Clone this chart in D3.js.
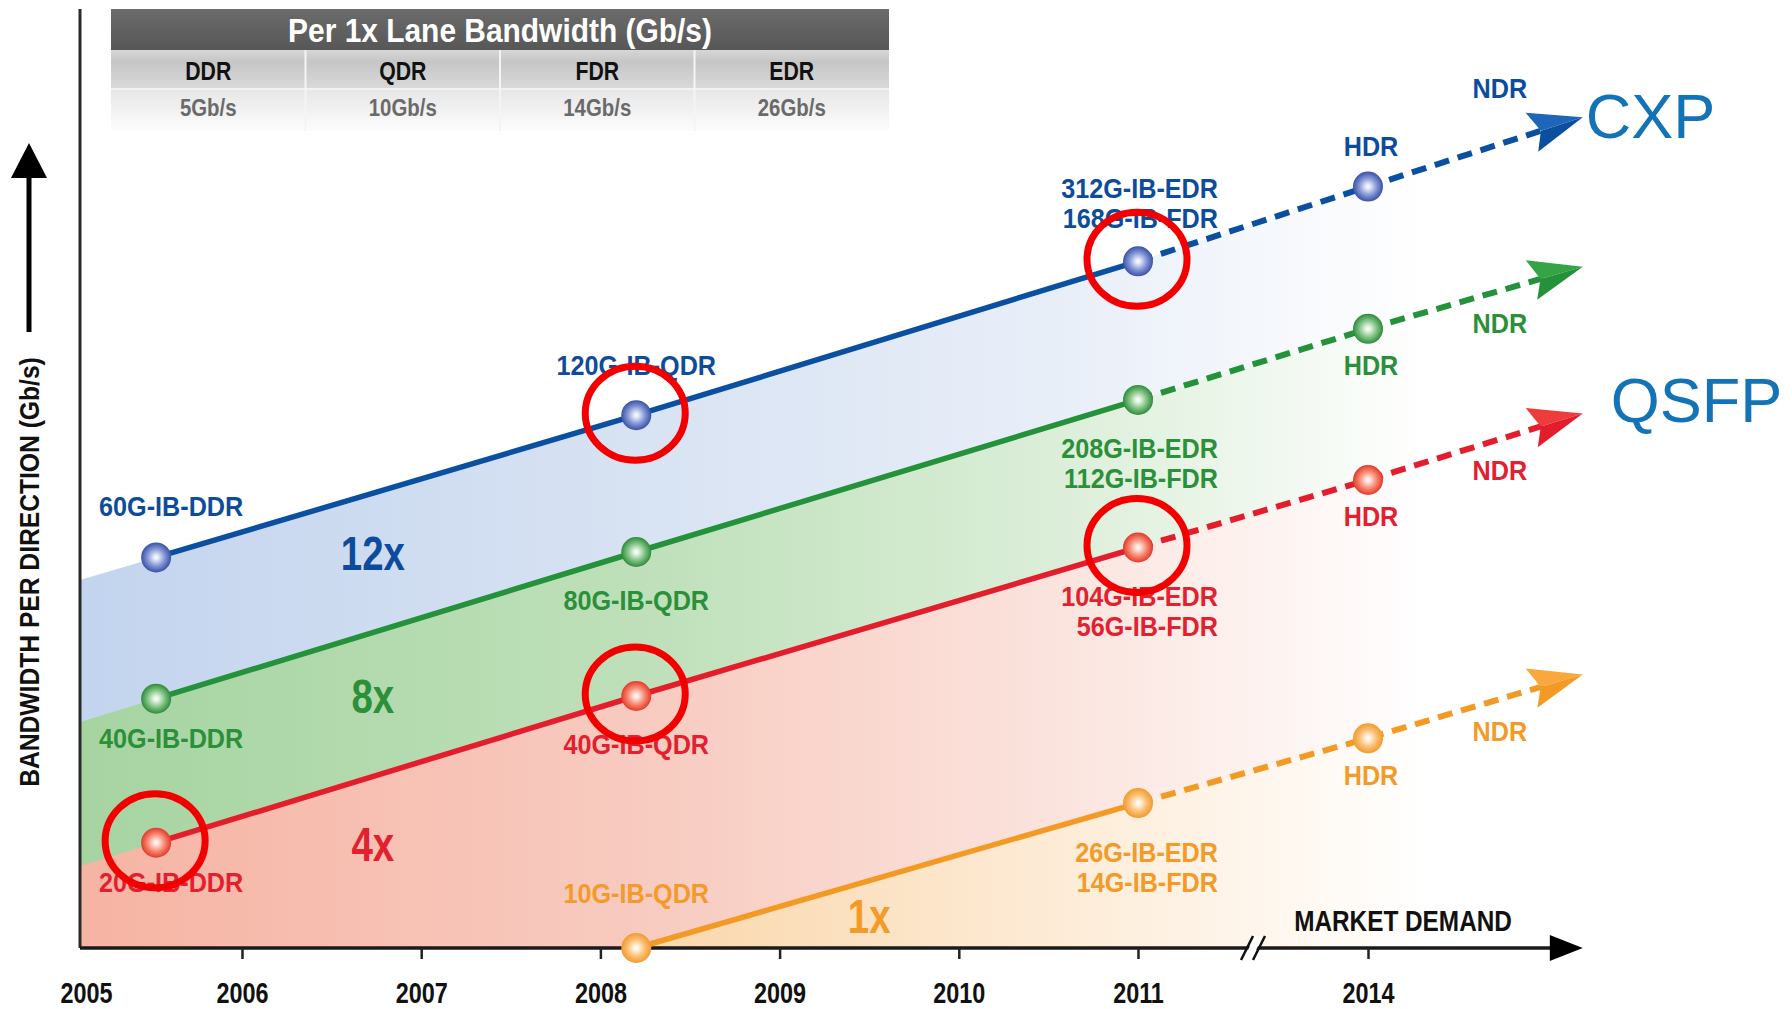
<!DOCTYPE html>
<html>
<head>
<meta charset="utf-8">
<script src="https://cdn.jsdelivr.net/npm/d3@7"></script>
<style>
  body { margin: 0; background: #fff; }
  svg { display: block; }
  text { font-family: "Liberation Sans", Arial, sans-serif; font-weight: bold; }
</style>
</head>
<body>
<svg id="chart"></svg>
<script>
// ---- data ----
var generations = ["DDR", "QDR", "EDR", "HDR", "NDR"];
var genYears = [2005.47, 2008.2, 2011, 2014, 2015.2];
var seriesNames = ["12x", "8x", "4x", "1x"];
// relative bandwidth level (0 = x axis, 100 = top of chart), schematic as in the original
var level12x = [43.4, 59.2, 76.3, 84.6, 92.3];
var level8x = [27.7, 44.0, 60.9, 68.8, 75.7];
var level4x = [11.7, 28.0, 44.5, 52.0, 59.4];
var level1x = [null, 0, 16.1, 23.3, 30.4];
var labels12x = [["60G-IB-DDR"], ["120G-IB-QDR"], ["312G-IB-EDR", "168G-IB-FDR"], ["HDR"], ["NDR"]];
var labels8x = [["40G-IB-DDR"], ["80G-IB-QDR"], ["208G-IB-EDR", "112G-IB-FDR"], ["HDR"], ["NDR"]];
var labels4x = [["20G-IB-DDR"], ["40G-IB-QDR"], ["104G-IB-EDR", "56G-IB-FDR"], ["HDR"], ["NDR"]];
var labels1x = [null, ["10G-IB-QDR"], ["26G-IB-EDR", "14G-IB-FDR"], ["HDR"], ["NDR"]];
var highlighted = [["12x", "QDR"], ["12x", "EDR"], ["4x", "DDR"], ["4x", "QDR"], ["4x", "EDR"]];
var connectorNames = ["CXP", "QSFP"];
var connectorSeries = ["12x", "4x"];
var laneRates = ["DDR", "QDR", "FDR", "EDR"];
var laneSpeeds = ["5Gb/s", "10Gb/s", "14Gb/s", "26Gb/s"];
var yearTicks = [2005, 2006, 2007, 2008, 2009, 2010, 2011, 2014];

// colours
var lineColors = ["#0b4fa1", "#23923a", "#e41d2d", "#f39a24"];
var arrowLight = ["#1f65b8", "#34a446", "#ee3b3b", "#f8a83c"];
var textColors = ["#0d4c9c", "#2b9039", "#e2202f", "#f39a28"];
var fillColors = [
  ["#c3d4ee", "#d8e3f3", "#e8eef8", "#ffffff"],
  ["#a6d4a1", "#bfe0ba", "#dbeed8", "#ffffff"],
  ["#f6b4a3", "#f8cbc0", "#fbe3dd", "#ffffff"],
  ["#f8c383", "#fad7ab", "#fdebd6", "#ffffff"]
];
var dotColors = ["#3a52a6", "#2f8a3c", "#e23a2a", "#f29a2e"];
var dotMids = ["#7f92d3", "#7cc07f", "#f7836c", "#f9bd6e"];
var dotLights = ["#dfe4f6", "#e2f2e0", "#fde0d8", "#fff0dc"];

var W = 1792, H = 1009;
var axisX = 80, axisY = 948, topY = 9;

var svg = d3.select("#chart").attr("width", W).attr("height", H);
var defs = svg.append("defs");

// narrow the bold face horizontally, like the condensed type of the original
function squeeze(sel, sx) {
  sel.each(function () {
    var t = d3.select(this);
    var tx = +t.attr("x") || 0;
    t.attr("x", 0).attr("transform", "translate(" + tx + ",0) scale(" + sx + ",1)");
  });
}

var x = d3.scaleLinear()
  .domain([2005, 2006, 2011, 2014, 2016])
  .range([axisX, 242, 1138, 1368, 1726]);
var y = d3.scaleLinear().domain([0, 100]).range([axisY, 48]);

var levels = [level12x, level8x, level4x, level1x];
var labelSets = [labels12x, labels8x, labels4x, labels1x];

var series = seriesNames.map(function (name, si) {
  var pts = [];
  genYears.forEach(function (yr, i) {
    if (levels[si][i] == null) return;
    pts.push({ gen: generations[i], px: x(yr), py: y(levels[si][i]), label: labelSets[si][i] });
  });
  return { name: name, idx: si, pts: pts };
});

// ---- gradients ----
series.forEach(function (s) {
  var lg = defs.append("linearGradient")
    .attr("id", "fill" + s.idx)
    .attr("gradientUnits", "userSpaceOnUse")
    .attr("x1", axisX).attr("x2", 1577).attr("y1", 0).attr("y2", 0);
  [0, 0.38, 0.65, 0.9].forEach(function (o, k) {
    lg.append("stop").attr("offset", o).attr("stop-color", fillColors[s.idx][k]);
  });
  var rg = defs.append("radialGradient").attr("id", "dot" + s.idx)
    .attr("cx", "50%").attr("cy", "50%").attr("r", "50%");
  rg.append("stop").attr("offset", 0).attr("stop-color", "#ffffff");
  rg.append("stop").attr("offset", 0.18).attr("stop-color", dotLights[s.idx]);
  rg.append("stop").attr("offset", 0.6).attr("stop-color", dotMids[s.idx]);
  rg.append("stop").attr("offset", 1).attr("stop-color", dotColors[s.idx]);
});

// ---- filled bands (each drawn down to the axis, later ones on top) ----
var area = d3.area().x(function (d) { return d[0]; }).y0(axisY).y1(function (d) { return d[1]; });
series.forEach(function (s) {
  var p = s.pts.map(function (d) { return [d.px, d.py]; });
  if (p[0][0] > axisX + 1 && s.pts[0].py < axisY - 1) {
    var k = (p[1][1] - p[0][1]) / (p[1][0] - p[0][0]);
    p.unshift([axisX, p[0][1] + k * (axisX - p[0][0])]);
  }
  svg.append("path").attr("d", area(p)).attr("fill", "url(#fill" + s.idx + ")");
});

// ---- table ----
var tx0 = 111, tx1 = 889;
var col = d3.scaleBand().domain(laneRates).range([tx0, tx1]);
var tg = defs.append("linearGradient").attr("id", "hdr").attr("x1", 0).attr("x2", 0).attr("y1", 0).attr("y2", 1);
tg.append("stop").attr("offset", 0).attr("stop-color", "#6b6b6b");
tg.append("stop").attr("offset", 1).attr("stop-color", "#575757");
var r1 = defs.append("linearGradient").attr("id", "row1").attr("x1", 0).attr("x2", 0).attr("y1", 0).attr("y2", 1);
r1.append("stop").attr("offset", 0).attr("stop-color", "#d6d6d6");
r1.append("stop").attr("offset", 0.3).attr("stop-color", "#c6c6c6");
r1.append("stop").attr("offset", 1).attr("stop-color", "#d9d9d9");
var r2 = defs.append("linearGradient").attr("id", "row2").attr("x1", 0).attr("x2", 0).attr("y1", 0).attr("y2", 1);
r2.append("stop").attr("offset", 0).attr("stop-color", "#e6e6e6");
r2.append("stop").attr("offset", 1).attr("stop-color", "#fdfdfd");

svg.append("rect").attr("x", tx0).attr("y", topY).attr("width", tx1 - tx0).attr("height", 41).attr("fill", "url(#hdr)");
svg.append("rect").attr("x", tx0).attr("y", 50).attr("width", tx1 - tx0).attr("height", 39).attr("fill", "url(#row1)");
svg.append("rect").attr("x", tx0).attr("y", 89).attr("width", tx1 - tx0).attr("height", 42).attr("fill", "url(#row2)");
svg.append("line").attr("x1", tx0).attr("x2", tx1).attr("y1", 89).attr("y2", 89).attr("stroke", "#f2f2f2").attr("stroke-width", 2);
svg.selectAll(".coldiv").data(laneRates.slice(1)).enter().append("line")
  .attr("x1", function (d) { return col(d); }).attr("x2", function (d) { return col(d); })
  .attr("y1", 50).attr("y2", 131).attr("stroke", "#f4f4f4").attr("stroke-width", 2);
svg.append("text").attr("x", (tx0 + tx1) / 2).attr("y", 30).attr("dominant-baseline", "central")
  .attr("text-anchor", "middle").attr("fill", "#fff").style("font-size", "34px")
  .text("Per 1x Lane Bandwidth (Gb/s)").call(squeeze, 0.88);
svg.selectAll(".rate").data(laneRates).enter().append("text")
  .attr("x", function (d) { return col(d) + col.bandwidth() / 2; }).attr("y", 71)
  .attr("text-anchor", "middle").attr("dominant-baseline", "central")
  .attr("fill", "#111").style("font-size", "25px").text(function (d) { return d; }).call(squeeze, 0.85);
svg.selectAll(".speed").data(laneSpeeds).enter().append("text")
  .attr("x", function (d, i) { return col(laneRates[i]) + col.bandwidth() / 2; }).attr("y", 108)
  .attr("text-anchor", "middle").attr("dominant-baseline", "central")
  .attr("fill", "#6a6a6a").style("font-size", "24px").text(function (d) { return d; }).call(squeeze, 0.85);

// ---- axes ----
svg.append("line").attr("x1", axisX).attr("x2", axisX).attr("y1", topY).attr("y2", axisY)
  .attr("stroke", "#2a2a2a").attr("stroke-width", 3);
var tipX = x(genYears[genYears.length - 1]);
svg.append("line").attr("x1", axisX).attr("x2", tipX - 28).attr("y1", axisY).attr("y2", axisY)
  .attr("stroke", "#1a1a1a").attr("stroke-width", 3.5);
svg.append("path")
  .attr("d", "M" + tipX + "," + axisY + "L" + (tipX - 33) + "," + (axisY - 13) + "L" + (tipX - 33) + "," + (axisY + 13) + "Z")
  .attr("fill", "#000");

var xAxis = svg.append("g").attr("transform", "translate(0," + axisY + ")")
  .call(d3.axisBottom(x).tickValues(yearTicks).tickSize(11).tickFormat(d3.format("d")));
xAxis.select(".domain").remove();
xAxis.attr("font-family", null).attr("font-size", null);
xAxis.selectAll(".tick line").attr("stroke", "#222").attr("stroke-width", 2.5)
  .filter(function (d) { return d === 2005; }).remove();
xAxis.selectAll(".tick text").attr("y", 34).attr("fill", "#111")
  .attr("x", function (d) { return d === 2005 ? 6 : 0; })
  .style("font-size", "30px").call(squeeze, 0.78);

// axis break
var bx = (x(2011) + x(2014)) / 2;
svg.append("path").attr("d", "M" + (bx - 10) + "," + (axisY + 12) + "L" + (bx + 2) + "," + (axisY - 12) +
  "L" + (bx + 10) + "," + (axisY - 12) + "L" + (bx - 2) + "," + (axisY + 12) + "Z").attr("fill", "#fff");
[-6, 6].forEach(function (o) {
  svg.append("line").attr("x1", bx + o - 6).attr("y1", axisY + 12).attr("x2", bx + o + 6).attr("y2", axisY - 12)
    .attr("stroke", "#111").attr("stroke-width", 2.5);
});
svg.append("text").attr("x", x(2014) + 35).attr("y", 931).attr("text-anchor", "middle")
  .attr("fill", "#111").style("font-size", "29px").text("MARKET DEMAND").call(squeeze, 0.84);

// y label + arrow
svg.append("line").attr("x1", 29).attr("x2", 29).attr("y1", 332).attr("y2", 170)
  .attr("stroke", "#000").attr("stroke-width", 5);
svg.append("path").attr("d", "M29,143L11,178L47,178Z").attr("fill", "#000");
svg.append("text").attr("transform", "translate(29,572) rotate(-90) scale(0.88,1)")
  .attr("text-anchor", "middle").attr("dominant-baseline", "central")
  .attr("fill", "#111").style("font-size", "28px").text("BANDWIDTH PER DIRECTION (Gb/s)");

// ---- lines, arrows ----
var line = d3.line().x(function (d) { return d.px; }).y(function (d) { return d.py; });
series.forEach(function (s) {
  var c = lineColors[s.idx];
  var solid = s.pts.filter(function (d) { return generations.indexOf(d.gen) <= 2; });
  var dash = s.pts.filter(function (d) { return generations.indexOf(d.gen) >= 2; });
  svg.append("path").attr("d", line(solid)).attr("fill", "none").attr("stroke", c).attr("stroke-width", 5.5);
  var a = dash[dash.length - 2], b = dash[dash.length - 1];
  var ang = Math.atan2(b.py - a.py, b.px - a.px);
  var shortEnd = { px: b.px - 40 * Math.cos(ang), py: b.py - 40 * Math.sin(ang) };
  svg.append("path").attr("d", line(dash.slice(0, -1).concat([shortEnd]))).attr("fill", "none")
    .attr("stroke", c).attr("stroke-width", 6).attr("stroke-dasharray", "15,9");
  var head = svg.append("g")
    .attr("transform", "translate(" + b.px + "," + b.py + ") rotate(" + (ang * 180 / Math.PI) + ")");
  head.append("path").attr("d", "M0,0L-53,-22L-44,0Z").attr("fill", arrowLight[s.idx]);
  head.append("path").attr("d", "M0,0L-44,0L-53,19Z").attr("fill", c);
});

// ---- multiplier labels ----
series.forEach(function (s) {
  var p0 = s.pts[0], p1 = s.pts[1];
  var lx = s.idx < 3 ? x(2006.73) : x(2009.5);
  var ly = p0.py + (p1.py - p0.py) * (lx - p0.px) / (p1.px - p0.px);
  svg.append("text").attr("x", lx).attr("y", ly + (s.idx < 3 ? 60 + s.idx * 4 : 36))
    .attr("text-anchor", "middle").attr("dominant-baseline", "central")
    .attr("fill", textColors[s.idx]).style("font-size", "48px").text(s.name).call(squeeze, 0.8);
});

// ---- dots ----
series.forEach(function (s) {
  svg.selectAll(".dot" + s.idx).data(s.pts.filter(function (d) { return d.gen !== "NDR"; })).enter()
    .append("circle").attr("cx", function (d) { return d.px; }).attr("cy", function (d) { return d.py; })
    .attr("r", 15).attr("fill", "url(#dot" + s.idx + ")");
});

// ---- point labels ----
var gapBelow = { DDR: 40, QDR: 49, EDR: 49, HDR: 37 };
var gapAbove = { DDR: -51, QDR: -50, EDR: -43, HDR: -40 };
series.forEach(function (s) {
  s.pts.forEach(function (d) {
    var lines = d.label;
    var above = s.idx === 0 || (s.idx === 3 && d.gen === "QDR");
    lines.forEach(function (t, i) {
      var lx = d.px, ly, anchor = "middle";
      if (d.gen === "NDR") {
        lx = d.px - 83; ly = d.py + (above ? -29 : 57);
      } else if (above) {
        ly = d.py + gapAbove[d.gen] - (lines.length - 1 - i) * 30 - (s.idx === 3 ? 4 : 0);
      } else {
        ly = d.py + gapBelow[d.gen] + i * 30;
      }
      if (d.gen === "DDR") lx += 15;
      if (d.gen === "EDR") { lx += 80; anchor = "end"; }
      if (d.gen === "HDR") lx += 3;
      svg.append("text").attr("x", lx).attr("y", ly).attr("text-anchor", anchor)
        .attr("dominant-baseline", "central").attr("fill", textColors[s.idx])
        .style("font-size", "28px").text(t).call(squeeze, 0.9);
    });
  });
});

// ---- red highlight rings ----
highlighted.forEach(function (h) {
  var s = series[seriesNames.indexOf(h[0])];
  var d = s.pts.filter(function (p) { return p.gen === h[1]; })[0];
  svg.append("ellipse").attr("cx", d.px - 1).attr("cy", d.py - 2).attr("rx", 50).attr("ry", 47)
    .attr("fill", "none").attr("stroke", "#f20000").attr("stroke-width", 7);
});

// ---- connector names ----
connectorNames.forEach(function (n, i) {
  var s = series[seriesNames.indexOf(connectorSeries[i])];
  var tip = s.pts[s.pts.length - 1];
  svg.append("text").attr("x", tip.px + (i === 0 ? 3 : 28)).attr("y", tip.py + (i === 0 ? 21 : 9))
    .attr("fill", "#1273b6").style("font-weight", "normal").style("font-size", "63px").text(n);
});
</script>
</body>
</html>
